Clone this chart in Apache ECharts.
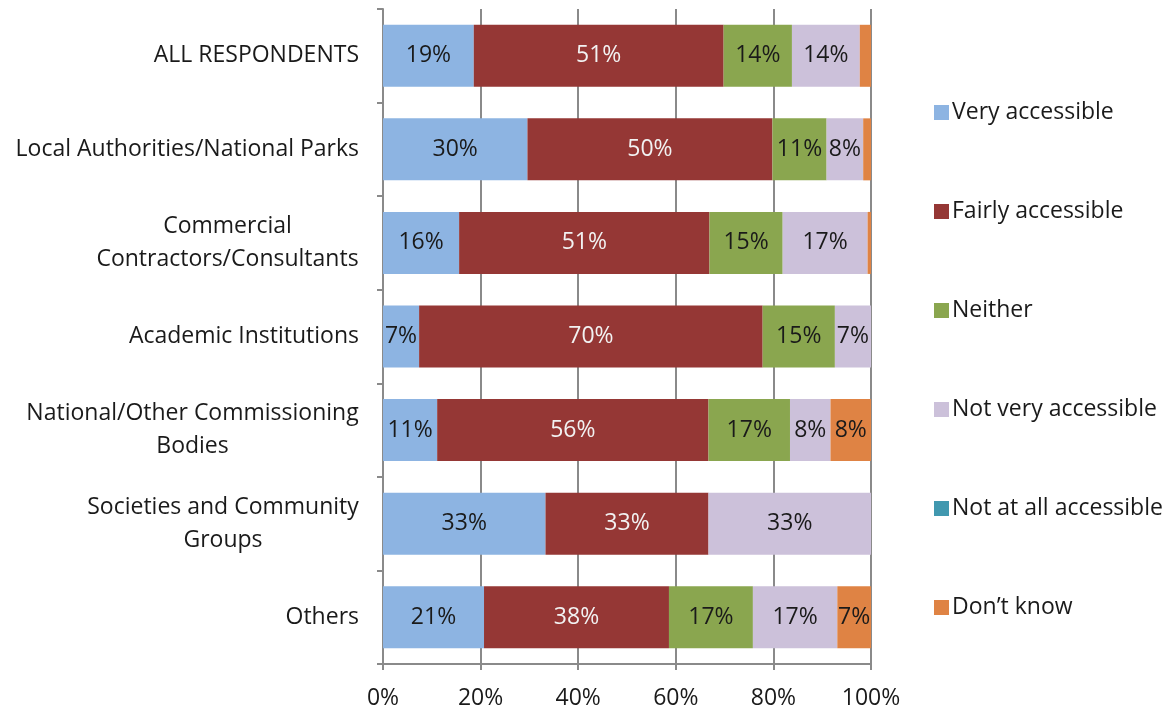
<!DOCTYPE html>
<html>
<head>
<meta charset="utf-8">
<script src="https://cdn.jsdelivr.net/npm/echarts@6/dist/echarts.min.js"></script>
<style>html,body{margin:0;padding:0;background:#fff;}#c{width:1172px;height:711px;}</style>
</head>
<body>
<div id="c"></div>
<script>
const categories = [
  'ALL RESPONDENTS',
  'Local Authorities/National Parks',
  'Commercial\nContractors/Consultants',
  'Academic Institutions',
  'National/Other Commissioning\nBodies',
  'Societies and Community\nGroups',
  'Others'
];
const seriesNames = ['Very accessible','Fairly accessible','Neither','Not very accessible','Not at all accessible','Don\u2019t know'];
const veryAccessible    = [18.6, 29.6, 15.6, 7.4, 11.1, 33.3, 20.7];
const fairlyAccessible  = [51.2, 50.2, 51.3, 70.4, 55.6, 33.4, 37.9];
const neither           = [14.0, 11.1, 15.0, 14.8, 16.7, 0, 17.2];
const notVeryAccessible = [13.9, 7.5, 17.4, 7.4, 8.3, 33.3, 17.3];
const notAtAll          = [0, 0, 0, 0, 0, 0, 0];
const dontKnow          = [2.3, 1.6, 0.7, 0, 8.3, 0, 6.9];
const xTicks = [0, 20, 40, 60, 80, 100];

const seriesData = [veryAccessible, fairlyAccessible, neither, notVeryAccessible, notAtAll, dontKnow];
const colors = ['#8DB4E2', '#953735', '#8AA64F', '#CCC1DA', '#4198AF', '#DF8344'];
const labelColors = ['#1a1a1a', '#f2f2f2', '#1a1a1a', '#1a1a1a', '#1a1a1a', '#1a1a1a'];
const FONT = 'Open Sans';
const FS = 23;

const ctx = document.createElement('canvas').getContext('2d');
ctx.font = FS + 'px "' + FONT + '"';
const rich = {};
categories.forEach(function (c, i) {
  const lines = c.split('\n');
  const w = Math.max.apply(null, lines.map(function (l) { return ctx.measureText(l).width; }));
  rich['c' + i] = { width: Math.ceil(w), align: 'center', fontFamily: FONT, fontSize: FS, lineHeight: 33, color: '#1a1a1a' };
});

const chart = echarts.init(document.getElementById('c'), null, { renderer: 'canvas' });
const option = {
  animation: false,
  textStyle: { fontFamily: FONT },
  grid: { left: 383, right: 301, top: 9, bottom: 47, containLabel: false },
  legend: {
    orient: 'vertical',
    left: 929,
    top: 96,
    itemWidth: 15,
    itemHeight: 15,
    itemGap: 76,
    icon: 'rect',
    data: seriesNames,
    textStyle: { fontFamily: FONT, fontSize: FS, color: '#1a1a1a', lineHeight: 20, padding: [0, 0, 0, -2] }
  },
  xAxis: {
    type: 'value',
    min: xTicks[0],
    max: xTicks[xTicks.length - 1],
    interval: 20,
    axisLine: { show: true, lineStyle: { color: '#8a8a8a', width: 2 } },
    axisTick: { show: true, length: 6, lineStyle: { color: '#8a8a8a', width: 2 } },
    splitLine: { show: true, lineStyle: { color: '#8a8a8a', width: 2 } },
    axisLabel: { fontFamily: FONT, fontSize: FS, color: '#1a1a1a', margin: 23, formatter: function (v) { return v + '%'; } }
  },
  yAxis: {
    type: 'category',
    inverse: true,
    data: categories,
    axisLine: { show: true, lineStyle: { color: '#8a8a8a', width: 2 } },
    axisTick: { show: true, length: 6, lineStyle: { color: '#8a8a8a', width: 2 } },
    axisLabel: {
      fontFamily: FONT, fontSize: FS, color: '#1a1a1a', margin: 24, lineHeight: 33,
      formatter: function (v, idx) {
        const lines = v.split('\n');
        if (lines.length === 1) return v;
        return lines.map(function (l) { return '{c' + idx + '|' + l + '}'; }).join('\n');
      },
      rich: rich
    }
  },
  series: seriesNames.map(function (name, si) {
    return {
      name: name,
      type: 'bar',
      stack: 'total',
      barWidth: 62,
      itemStyle: { color: colors[si] },
      label: {
        show: true,
        position: 'inside',
        fontFamily: FONT,
        fontSize: FS,
        color: labelColors[si],
        formatter: function (p) { return p.value >= 4 ? Math.round(p.value) + '%' : ''; }
      },
      data: seriesData[si]
    };
  })
};
chart.setOption(option);
</script>
</body>
</html>
